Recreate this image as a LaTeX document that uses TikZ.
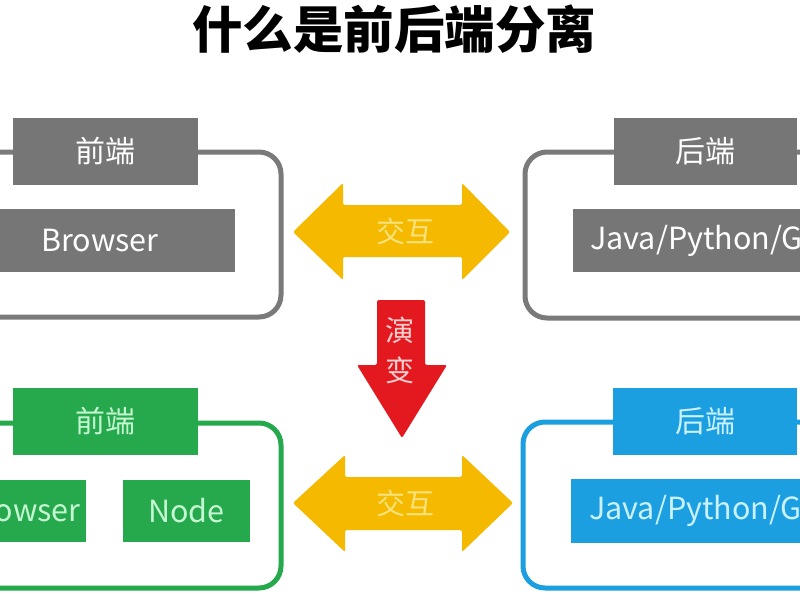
\documentclass[tikz,border=0pt]{standalone}
\usepackage{fontspec}
\setmainfont{Noto Sans CJK SC}
\definecolor{gfill}{HTML}{767676}
\definecolor{gline}{HTML}{7A7A7A}
\definecolor{grn}{HTML}{26A84C}
\definecolor{grntxt}{HTML}{C4F7D2}
\definecolor{blu}{HTML}{1B9FE0}
\definecolor{blutxt}{HTML}{CBF1FF}
\definecolor{yel}{HTML}{F5B900}
\definecolor{yeltxt}{HTML}{F8E27C}
\definecolor{redc}{HTML}{E3191F}
\definecolor{redtxt}{HTML}{F9CFCF}
\tikzset{
  frame/.style={line width=5pt, rounded corners=22pt},
  lbox/.style={rectangle, inner sep=0pt, minimum width=185pt, minimum height=67pt, font=\fontsize{30}{32}\selectfont},
  cbox/.style={rectangle, inner sep=0pt, minimum height=63pt, font=\fontsize{30.5}{32}\selectfont},
  btxt/.style={inner sep=0pt, anchor=west, font=\fontsize{30.5}{32}\selectfont},
  arrtxt/.style={inner sep=0pt, font=\fontsize{29}{31}\selectfont},
}
\begin{document}
\begin{tikzpicture}[x=1pt,y=-1pt]
\useasboundingbox (0,0) rectangle (800,600);
\clip (0,0) rectangle (800,600);
\fill[white] (0,0) rectangle (800,600);

% title
\node[inner sep=0pt, font=\fontsize{50.5}{52}\selectfont\bfseries] (title) at (394,29) {什么是前后端分离};

% top-left (gray front end)
\draw[frame, draw=gline] (-40,152) rectangle (281,317);
\node[lbox, fill=gfill, text=white] (tlf) at (105.5,151.5) {前端};
\node[cbox, fill=gfill, text=white, minimum width=270pt] (tlb) at (100,240.5) {Browser};

% top-right (gray back end)
\draw[frame, draw=gline] (525,152) rectangle (840,318);
\node[lbox, fill=gfill, text=white, minimum width=183pt] (trb) at (705.5,151.5) {后端};
\node[cbox, fill=gfill, minimum width=260pt, anchor=west] (trj) at (573,240.5) {};
\node[btxt, text=white] (trjt) at (590,240.5) {Java/Python/G};

% bottom-left (green front end)
\draw[frame, draw=grn] (-40,423) rectangle (281,588);
\node[lbox, fill=grn, text=grntxt] (blf) at (105.5,421.5) {前端};
\node[cbox, fill=grn, text=grntxt, minimum width=128pt, minimum height=62pt] (blb) at (22,511) {Browser};
\node[cbox, fill=grn, text=grntxt, minimum width=127pt, minimum height=62pt] (bln) at (186.5,511) {Node};

% bottom-right (blue back end)
\draw[frame, draw=blu] (523,422) rectangle (840,588);
\node[lbox, fill=blu, text=blutxt, minimum width=184pt] (brb) at (705,421.5) {后端};
\node[cbox, fill=blu, minimum width=260pt, minimum height=64pt, anchor=west] (brj) at (571,511) {};
\node[btxt, text=blutxt] (brjt) at (589,511) {Java/Python/G};

% top double arrow
\fill[yel, rounded corners=2pt] (293,232) -- (343,183) -- (343,205) -- (462,205) -- (462,183) -- (510,232)
  -- (462,280) -- (462,257) -- (343,257) -- (343,280) -- cycle;
\node[arrtxt, text=yeltxt] (jh1) at (405,231) {交互};

% red down arrow
\fill[redc, rounded corners=2pt] (377,300) -- (425,300) -- (425,365) -- (447,365) -- (402,438) -- (357,365) -- (377,365) -- cycle;
\node[arrtxt, text=redtxt] (yb1) at (400,330) {演};
\node[arrtxt, text=redtxt] (yb2) at (400,370) {变};

% bottom double arrow
\fill[yel, rounded corners=2pt] (293,503) -- (345,455) -- (345,477) -- (462,477) -- (462,455) -- (513,503)
  -- (462,552) -- (462,530) -- (345,530) -- (345,552) -- cycle;
\node[arrtxt, text=yeltxt] (jh2) at (405,503) {交互};
\end{tikzpicture}
\end{document}
